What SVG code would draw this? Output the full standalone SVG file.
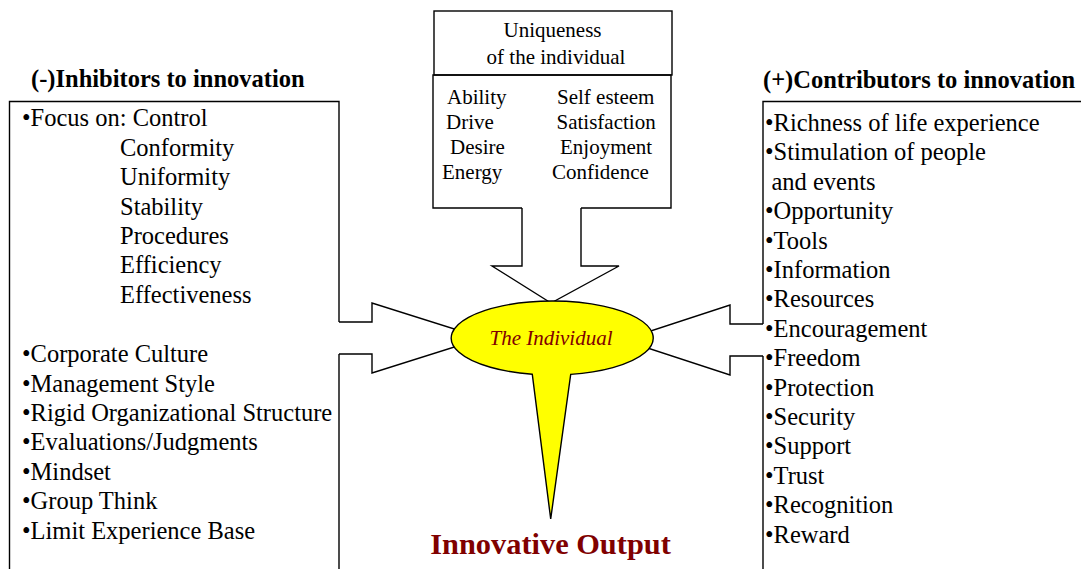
<svg xmlns="http://www.w3.org/2000/svg" width="1081" height="569" viewBox="0 0 1081 569">
<style>
.ln{fill:none;stroke:#000;stroke-width:1.4;stroke-linejoin:miter}
.ar{fill:#fff;stroke:#000;stroke-width:1.4}
.t{font-family:"Liberation Serif","Times New Roman",serif;font-size:24.5px;fill:#000}
.s{font-family:"Liberation Serif","Times New Roman",serif;font-size:21px;fill:#000}
.h{font-family:"Liberation Serif","Times New Roman",serif;font-size:24.5px;font-weight:bold;fill:#000}
</style>
<rect width="1081" height="569" fill="#fff"/>
<g id="connectors">
  <path class="ar" d="M339 322 H372 V303 L483 338 L372 373 V354 H339"/>
  <path class="ar" d="M763 324 H730 V305 L623 340 L730 375 V356 H763"/>
  <path class="ar" d="M522 208 V266 H492 L551 303 L619 266 H581 V208"/>
</g>
<g id="inhibitors">
  <text class="h" x="31" y="87">(-)Inhibitors to innovation</text>
  <path class="ln" d="M339 322 V101.5 H9.5 V590 M339 354 V590"/>
  <text class="t" x="22" y="126">•Focus on: Control</text>
  <text class="t" x="120" y="155.5">Conformity</text>
  <text class="t" x="120" y="185">Uniformity</text>
  <text class="t" x="120" y="214.5">Stability</text>
  <text class="t" x="120" y="244">Procedures</text>
  <text class="t" x="120" y="273">Efficiency</text>
  <text class="t" x="120" y="302.5">Effectiveness</text>
  <text class="t" x="22" y="362">•Corporate Culture</text>
  <text class="t" x="22" y="391.5">•Management Style</text>
  <text class="t" x="22" y="420.5">•Rigid Organizational Structure</text>
  <text class="t" x="22" y="450">•Evaluations/Judgments</text>
  <text class="t" x="22" y="479.5">•Mindset</text>
  <text class="t" x="22" y="509">•Group Think</text>
  <text class="t" x="22" y="538.5">•Limit Experience Base</text>
</g>
<g id="contributors">
  <text class="h" x="763" y="87.5">(+)Contributors to innovation</text>
  <path class="ln" d="M763 324 V101.5 H1090 M763 356 V590"/>
  <text class="t" x="765" y="131">•Richness of life experience</text>
  <text class="t" x="765" y="160.4">•Stimulation of people</text>
  <text class="t" x="771.5" y="189.8">and events</text>
  <text class="t" x="765" y="219.2">•Opportunity</text>
  <text class="t" x="765" y="248.6">•Tools</text>
  <text class="t" x="765" y="278">•Information</text>
  <text class="t" x="765" y="307.4">•Resources</text>
  <text class="t" x="765" y="336.8">•Encouragement</text>
  <text class="t" x="765" y="366.2">•Freedom</text>
  <text class="t" x="765" y="395.6">•Protection</text>
  <text class="t" x="765" y="425">•Security</text>
  <text class="t" x="765" y="454.4">•Support</text>
  <text class="t" x="765" y="483.8">•Trust</text>
  <text class="t" x="765" y="513.2">•Recognition</text>
  <text class="t" x="765" y="542.6">•Reward</text>
</g>
<g id="uniqueness">
  <rect class="ar" x="434" y="11" width="238" height="64"/>
  <text class="s" x="552.5" y="36.5" text-anchor="middle">Uniqueness</text>
  <text class="s" x="556" y="63.5" text-anchor="middle">of the individual</text>
  <path class="ln" d="M522 208 H433 V75 H671 V208 H581"/>
  <text class="s" x="447" y="103.5">Ability</text>
  <text class="s" x="557" y="103.5">Self esteem</text>
  <text class="s" x="446" y="128.7">Drive</text>
  <text class="s" x="556.5" y="128.7">Satisfaction</text>
  <text class="s" x="450" y="154">Desire</text>
  <text class="s" x="560" y="154">Enjoyment</text>
  <text class="s" x="442" y="179">Energy</text>
  <text class="s" x="552" y="179">Confidence</text>
</g>
<g id="individual">
  <path d="M532.3 374.3 A101 37 0 1 1 570.7 374.4 L550.7 519 Z" fill="#ffff00" stroke="#000" stroke-width="1.4"/>
  <text x="551" y="345" text-anchor="middle" font-family="'Liberation Serif','Times New Roman',serif" font-size="21" font-style="italic" fill="#800000">The Individual</text>
</g>
<g id="output">
  <text x="550.5" y="554" text-anchor="middle" font-family="'Liberation Serif','Times New Roman',serif" font-size="30.4" font-weight="bold" fill="#800000">Innovative Output</text>
</g>
</svg>
